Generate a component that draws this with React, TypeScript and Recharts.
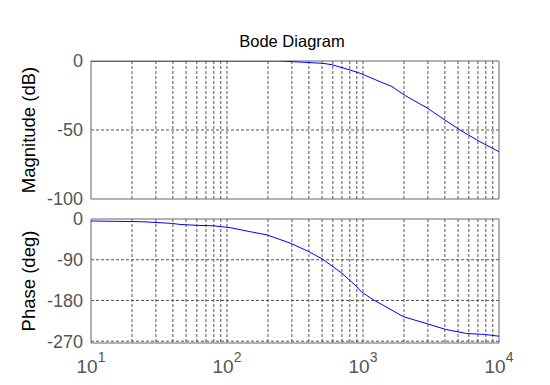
import React from 'react';
import { LineChart, Line, XAxis, YAxis, CartesianGrid, ReferenceArea } from 'recharts';

const magFreq = [10, 50, 100, 200, 245, 333, 508, 592, 802, 984, 1334, 1634, 2037, 2956, 4009, 5164, 7244, 10000];
const magDb = [0, 0, 0, 0, 0, -0.7, -1.7, -2.7, -6.5, -9.4, -15, -18.5, -25, -34, -42.8, -50, -58.5, -65.7];

const phaseFreq = [10, 23.6, 39.2, 45, 59.9, 78.9, 105, 147.5, 196, 296, 399, 506, 701, 889, 973, 1199, 1476, 1986, 3006, 4049, 5790, 7762, 10000];
const phaseDeg = [-4.4, -6, -9.7, -12, -14, -15, -19, -28, -35, -54, -72, -89, -120, -148, -161, -179, -194, -216, -232, -244, -253, -255, -259];

const gridFreqs = [20, 30, 40, 50, 60, 70, 80, 90, 100, 200, 300, 400, 500, 600, 700, 800, 900, 1000, 2000, 3000, 4000, 5000, 6000, 7000, 8000, 9000];
const decadeTicks = [10, 100, 1000, 10000];
const decadeExponents = ['1', '2', '3', '4'];
const magTicks = [0, -50, -100];
const magGrid = [-50];
const phaseTicks = [0, -90, -180, -270];
const phaseGrid = [-90, -180, -270];

const magData = magFreq.map((f, i) => ({ f, v: magDb[i] }));
const phaseData = phaseFreq.map((f, i) => ({ f, v: phaseDeg[i] }));

const FONT = '"Liberation Sans", Arial, sans-serif';
const TICK_COLOR = '#555';
const FRAME = '#666';
const GRID = '#555';

const EmptyTick = () => <g />;

const XTick = (props: any) => {
  const { x, y, payload } = props;
  const idx = decadeTicks.indexOf(payload.value);
  if (idx < 0) return <g />;
  return (
    <text x={x} y={y + 22} textAnchor="middle" fill={TICK_COLOR} fontFamily={FONT} fontSize={19}>
      <tspan>10</tspan>
      <tspan dy={-11} fontSize={14}>{decadeExponents[idx]}</tspan>
    </text>
  );
};

const yTickStyle = { fill: TICK_COLOR, fontSize: 18, fontFamily: FONT };

export default function App() {
  return (
    <div style={{ position: 'absolute', left: 0, top: 0, width: 550, height: 385, background: '#fff' }}>
      <div style={{ position: 'absolute', left: 0, top: 0 }}>
        <LineChart width={550} height={210} data={magData} margin={{ top: 61, right: 51, left: 0, bottom: 10 }}>
          <CartesianGrid stroke={GRID} strokeDasharray="3 2" horizontalValues={magGrid} verticalValues={gridFreqs} />
          <XAxis dataKey="f" type="number" scale="log" domain={[10, 10000]} ticks={decadeTicks} interval={0}
            tick={<EmptyTick />} axisLine={false} tickLine={false} height={1} allowDataOverflow />
          <YAxis type="number" domain={[-100, 0]} ticks={magTicks} interval={0} width={91}
            tick={yTickStyle} axisLine={false} tickLine={false} allowDataOverflow />
          <ReferenceArea x1={10} x2={10000} y1={-100} y2={0} fill="none" stroke={FRAME} strokeWidth={1} />
          <Line dataKey="v" stroke="#0000ff" strokeWidth={1} dot={false} isAnimationActive={false} type="linear" />
        </LineChart>
      </div>
      <div style={{ position: 'absolute', left: 0, top: 0 }}>
        <LineChart width={550} height={385} data={phaseData} margin={{ top: 219, right: 51, left: 0, bottom: 0 }}>
          <CartesianGrid stroke={GRID} strokeDasharray="3 2" horizontalValues={phaseGrid} verticalValues={gridFreqs} />
          <XAxis dataKey="f" type="number" scale="log" domain={[10, 10000]} ticks={decadeTicks} interval={0}
            tick={<XTick />} axisLine={false} tickLine={false} height={42} allowDataOverflow />
          <YAxis type="number" domain={[-274, 0]} ticks={phaseTicks} interval={0} width={91}
            tick={yTickStyle} axisLine={false} tickLine={false} allowDataOverflow />
          <ReferenceArea x1={10} x2={10000} y1={-274} y2={0} fill="none" stroke={FRAME} strokeWidth={1} />
          <Line dataKey="v" stroke="#0000ff" strokeWidth={1} dot={false} isAnimationActive={false} type="linear" />
        </LineChart>
      </div>
      <svg width={550} height={385} style={{ position: 'absolute', left: 0, top: 0, pointerEvents: 'none' }}>
        <text x={292} y={47} textAnchor="middle" fontFamily={FONT} fontSize={16.5} fill="#000">Bode Diagram</text>
        <text transform="translate(35,130) rotate(-90)" textAnchor="middle" fontFamily={FONT} fontSize={18.5} fill="#000">Magnitude (dB)</text>
        <text transform="translate(35,281) rotate(-90)" textAnchor="middle" fontFamily={FONT} fontSize={18.5} fill="#000">Phase (deg)</text>
      </svg>
    </div>
  );
}
